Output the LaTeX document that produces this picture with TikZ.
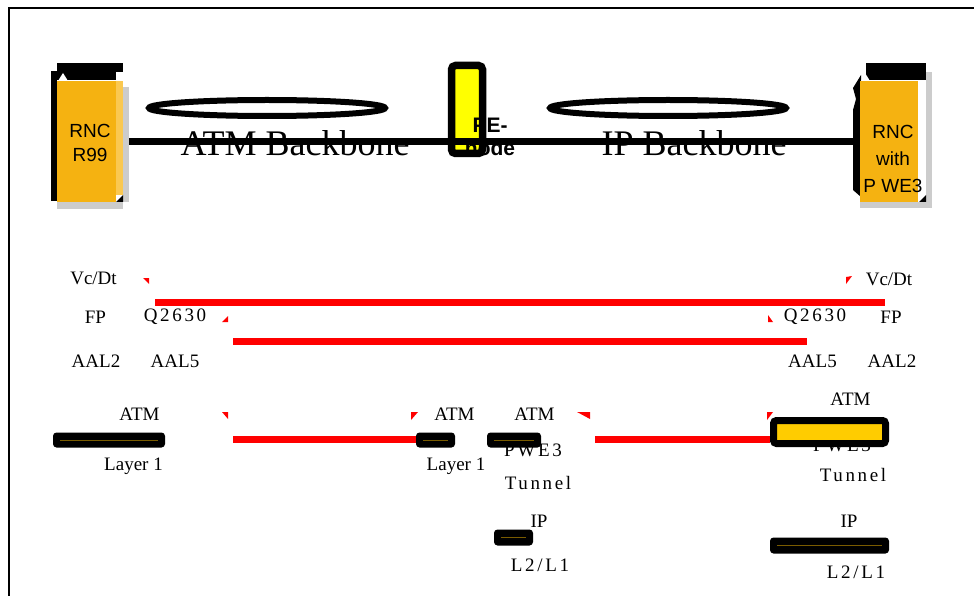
\documentclass[tikz,border=0pt]{standalone}
\usepackage{fontspec}
\setmainfont{Liberation Serif}
\newfontfamily\boxfont{Liberation Sans}
\newfontfamily\spacedfont[LetterSpace=14]{Liberation Serif}
\usetikzlibrary{positioning}
\definecolor{rncorange}{HTML}{F5B211}
\definecolor{rnclight}{HTML}{FAC850}
\definecolor{shadowgrey}{HTML}{CCCCCC}
\definecolor{peyellow}{HTML}{FFFF00}
\definecolor{tunnelgold}{HTML}{FFCC00}
\definecolor{barline}{HTML}{7A5C00}
\begin{document}
\begin{tikzpicture}[x=1pt, y=-1pt,
    lbl/.style={font=\fontsize{19}{21}\selectfont, inner sep=0pt},
    slbl/.style={font=\spacedfont\fontsize{19}{21}\selectfont, inner sep=0pt},
    bbone/.style={font=\fontsize{36}{38}\selectfont, inner sep=0pt},
    rnc/.style={fill=rncorange, minimum height=121pt, inner sep=0pt},
    rnctxt/.style={font=\boxfont\fontsize{19}{24}\selectfont, align=center, inner sep=0pt},
    ring/.style={line width=6pt},
    stackline/.style={red, line width=7.5pt},
    layerbar/.style={fill=black, rounded corners=3.5pt, inner sep=0pt},
    tick/.style={fill=red}]
    \useasboundingbox (0,0) rectangle (974,596);
    \draw[line width=2.5pt] (9,596) -- (9,8) -- (974,8);
    % RNC boxes
    \fill (57,63) rectangle (123,80);
    \fill (51,71) rectangle (57,201);
    \fill (866,63) rectangle (926,80);
    \fill (861,75) -- (853,88) -- (856,99) -- (853,110) -- (853,190) -- (861,197) -- cycle;
    \node[rnc, minimum width=59pt] (rncA) at (86.5,142) {};
    \node[rnc, minimum width=58pt] (rncB) at (889,142) {};
    \node[bbone] (atmbb) at (295,143) {ATM Backbone};
    \node[bbone] (ipbb) at (694,143) {IP Backbone};
    \node[draw, line width=7.5pt, fill=peyellow, rounded corners=4pt,
        minimum width=31pt, minimum height=88pt, inner sep=0pt] (pe) at (467,109.5) {};
    \draw[line width=7pt] (rncA.east) -- (rncB.west);
    \fill[rnclight] (116,81) rectangle (123,195);
    \fill[white] (116,72) rectangle (123,81);
    \fill[shadowgrey] (123,87) rectangle (129,202);
    \fill[shadowgrey] (57,202) rectangle (123,209);
    \fill (116,202) -- (123,202) -- (123,195) -- cycle;
    \fill[white] (58,81) -- (68,81) -- (63,73) -- cycle;
    \fill[shadowgrey] (926,72) rectangle (932,208);
    \fill[shadowgrey] (860,202) rectangle (926,208);
    \fill (919,202) -- (926,202) -- (926,195) -- cycle;
    \fill[white] (861,81) -- (870,81) -- (865,73) -- cycle;
    \node[rnctxt] (rncAtxt) at (90,143) {RNC\\R99};
    \node[rnctxt, font=\boxfont\fontsize{19}{27}\selectfont] (rncBtxt) at (893,159) {RNC\\with\\P WE3};
    \node[font=\boxfont\bfseries\fontsize{21}{23}\selectfont, align=center, inner sep=0pt] (petxt) at (490,137) {PE-\\node};
    \draw[ring] (267,108) ellipse [x radius=118pt, y radius=8pt];
    \draw[ring] (668,108) ellipse [x radius=118pt, y radius=8pt];
    % protocol stacks
    \node[lbl] (vcA) at (93.5,278) {Vc/Dt};
    \node[lbl] (fpA) at (95.5,317) {FP};
    \node[slbl] (qA) at (175,317) {Q2630};
    \node[lbl] (aal2A) at (96,361) {AAL2};
    \node[lbl] (aal5A) at (175,361) {AAL5};
    \node[lbl] (vcB) at (889,279) {Vc/Dt};
    \node[slbl] (qB) at (815,317) {Q2630};
    \node[lbl] (fpB) at (891,317) {FP};
    \node[lbl] (aal5B) at (812.5,361) {AAL5};
    \node[lbl] (aal2B) at (892,361) {AAL2};
    \node[lbl] (atmA) at (139.5,414.5) {ATM};
    \node[lbl] (layA) at (133.5,466) {Layer 1};
    \node[lbl] (atmM) at (454.5,414.5) {ATM};
    \node[lbl] (layM) at (456,466) {Layer 1};
    \node[lbl] (atmP) at (534.5,414.5) {ATM};
    \node[slbl] (pweP) at (533,450) {PWE3};
    \node[slbl] (tunP) at (538,483) {Tunnel};
    \node[lbl] (ipP) at (539,521) {IP};
    \node[slbl] (l2P) at (540,565.5) {L2/L1};
    \node[lbl] (atmR) at (850.5,399.5) {ATM};
    \node[slbl] (pweR) at (842,445) {PWE3};
    \node[slbl] (tunR) at (853,475) {Tunnel};
    \node[lbl] (ipR) at (849,521) {IP};
    \node[slbl] (l2R) at (856,572) {L2/L1};
    \node[layerbar, minimum width=112pt, minimum height=15pt] (barA) at (109,440) {};
    \node[layerbar, minimum width=39pt, minimum height=15pt] (barM) at (435.5,440) {};
    \node[layerbar, minimum width=54pt, minimum height=15pt] (barP) at (514,440) {};
    \node[layerbar, minimum width=39pt, minimum height=16pt] (barIP) at (513.5,537.5) {};
    \node[layerbar, minimum width=119pt, minimum height=16pt] (barIPR) at (829.5,545.5) {};
    \foreach \b in {barA,barM,barP,barIP,barIPR}
        \draw[barline, line width=0.8pt] ([xshift=7pt]\b.west) -- ([xshift=-7pt]\b.east);
    \node[draw, line width=7pt, fill=tunnelgold, rounded corners=3pt,
        minimum width=112pt, minimum height=23pt, inner sep=0pt] (tunBox) at (829.5,432) {};
    % red peer lines
    \coordinate (vcStart) at (155,302.5);
    \coordinate (vcEnd) at (885,302.5);
    \coordinate (qStart) at (233,341.5);
    \coordinate (qEnd) at (807,341.5);
    \coordinate (atmStart) at (233,439.5);
    \coordinate (pweStart) at (595,439.5);
    \draw[stackline] (vcStart) -- (vcEnd);
    \draw[stackline] (qStart) -- (qEnd);
    \draw[stackline] (atmStart) -- (atmStart -| barM.west);
    \draw[stackline] (pweStart) -- (pweStart -| tunBox.west);
    \fill[tick] (143,278) -- (149,278) -- (149,284) -- cycle;
    \fill[tick] (222,322) -- (228,322) -- (228,316) -- cycle;
    \fill[tick] (846,284) -- (852,276) -- (846,277) -- cycle;
    \fill[tick] (768,315) -- (768,322) -- (773,322) -- cycle;
    \fill[tick] (222,412) -- (228,412) -- (228,419) -- cycle;
    \fill[tick] (411,412) -- (418,412) -- (411,420) -- cycle;
    \fill[tick] (577,412) -- (590,412) -- (590,419) -- cycle;
    \fill[tick] (767,412) -- (773,412) -- (767,420) -- cycle;
\end{tikzpicture}
\end{document}
